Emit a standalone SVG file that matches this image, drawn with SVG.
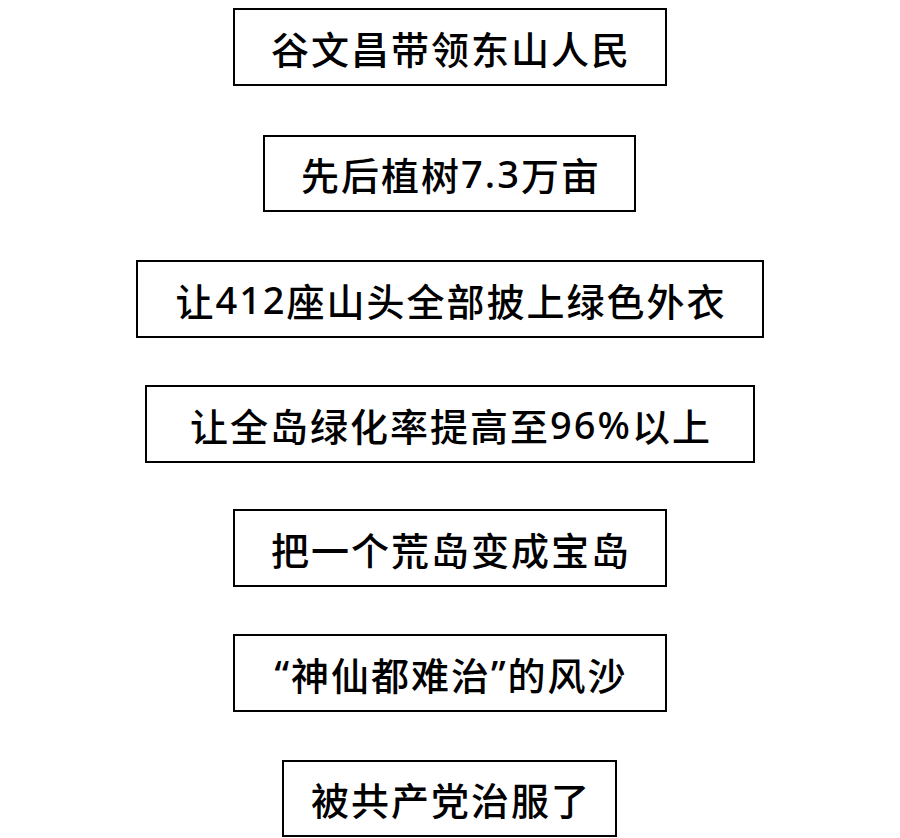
<svg xmlns="http://www.w3.org/2000/svg" width="900" height="838" viewBox="0 0 900 838">
<style>
rect{fill:#fff;stroke:#000;stroke-width:2}
text{font-family:"Noto Sans CJK SC","Noto Sans",sans-serif;font-size:38px;letter-spacing:2px;font-weight:500;text-anchor:middle;dominant-baseline:central;fill:#000}
.d{font-family:"Noto Sans","Noto Sans CJK SC",sans-serif}
</style>
<rect x="0" y="0" width="900" height="838" style="stroke:none"/>
<g id="n1"><rect x="234" y="9" width="432" height="76"/><text x="451" y="47">谷文昌带领东山人民</text></g>
<g id="n2"><rect x="264" y="136" width="371" height="75"/><text x="451" y="173">先后植树<tspan class="d">7.3</tspan>万亩</text></g>
<g id="n3"><rect x="137" y="261" width="626" height="76"/><text x="451" y="299">让<tspan class="d">412</tspan>座山头全部披上绿色外衣</text></g>
<g id="n4"><rect x="146" y="386" width="608" height="76"/><text x="451" y="424">让全岛绿化率提高至<tspan class="d">96%</tspan>以上</text></g>
<g id="n5"><rect x="234" y="510" width="432" height="76"/><text x="451" y="548">把一个荒岛变成宝岛</text></g>
<g id="n6"><rect x="234" y="635" width="432" height="76"/><text x="451" y="673"><tspan class="d">“</tspan>神仙都难治<tspan class="d">”</tspan>的风沙</text></g>
<g id="n7"><rect x="283" y="761" width="333" height="75"/><text x="451" y="798">被共产党治服了</text></g>
<g id="connectors"></g>
</svg>
